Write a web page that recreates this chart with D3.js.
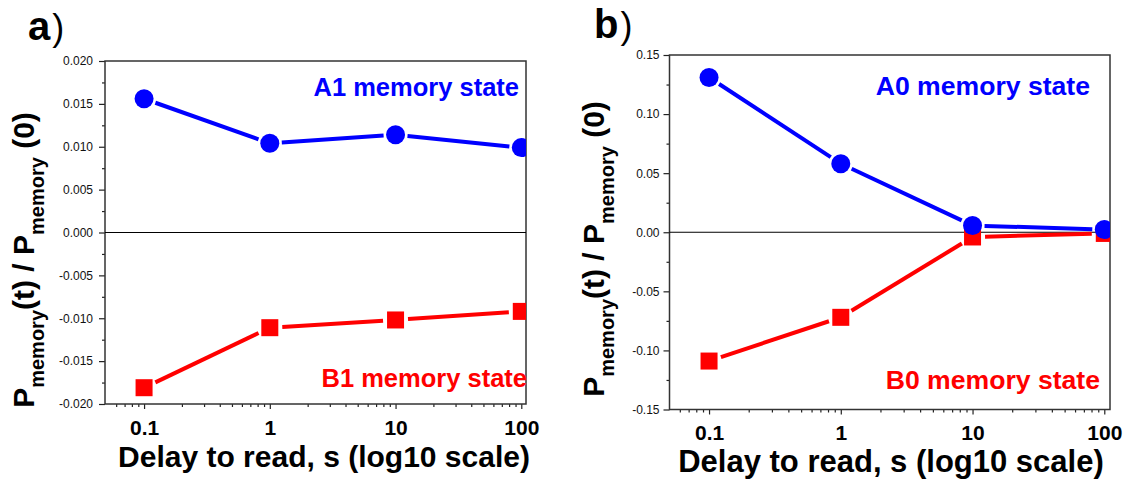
<!DOCTYPE html>
<html><head><meta charset="utf-8">
<script src="https://cdn.jsdelivr.net/npm/d3@7"></script>
<style>body{margin:0;background:#fff} svg{display:block;font-family:"Liberation Sans",Arial,sans-serif}</style>
</head><body><svg id="chart" width="1127" height="479"></svg>
<script>
// ---- data ----
const delays = [0.1, 1, 10, 100];
const xTickLabels = ["0.1", "1", "10", "100"];
const a1Values = [0.0156, 0.0104, 0.0114, 0.0099];
const b1Values = [-0.0181, -0.0111, -0.0102, -0.0092];
const a0Values = [0.131, 0.058, 0.0057, 0.0023];
const b0Values = [-0.109, -0.072, -0.004, -0.001];
const yTicksA = [0.020, 0.015, 0.010, 0.005, 0, -0.005, -0.010, -0.015, -0.020];
const yTickLabelsA = ["0.020", "0.015", "0.010", "0.005", "0.000", "-0.005", "-0.010", "-0.015", "-0.020"];
const yTicksB = [0.15, 0.10, 0.05, 0, -0.05, -0.10, -0.15];
const yTickLabelsB = ["0.15", "0.10", "0.05", "0.00", "-0.05", "-0.10", "-0.15"];
const panelLabels = ["a", "b"];
const upperLabels = ["A1 memory state", "A0 memory state"];
const lowerLabels = ["B1 memory state", "B0 memory state"];
const xTitle = "Delay to read, s (log10 scale)";

const BLUE = "#0000ff", RED = "#ff0000";
const svg = d3.select("#chart");

const panels = [
  {id: "a", left: 105, right: 526, top: 61, bottom: 404, xDom: [0.0489, 109], yDom: [-0.02, 0.02],
   yTicks: yTicksA, yLabels: yTickLabelsA, upper: a1Values, lower: b1Values,
   upperText: upperLabels[0], lowerText: lowerLabels[0], label: panelLabels[0],
   labelX: 28, labelY: 40, yPad: 6, upY: 96, lowY: 387, upR: 519, lowR: 527, annSize: 25.5,
   xLabY: 435, xTitleY: 467, xTitleC: 324, yTitleX: 34, yTitleY: 260, titleSize: 30},
  {id: "b", left: 669.5, right: 1110, top: 55, bottom: 409.5, xDom: [0.0501, 110.5], yDom: [-0.15, 0.15],
   yTicks: yTicksB, yLabels: yTickLabelsB, upper: a0Values, lower: b0Values,
   upperText: upperLabels[1], lowerText: lowerLabels[1], label: panelLabels[1],
   labelX: 594, labelY: 38, yPad: 4, upY: 95, lowY: 389, upR: 1090, lowR: 1100, annSize: 26.6,
   xLabY: 440, xTitleY: 472, xTitleC: 891, yTitleX: 604, yTitleY: 249, titleSize: 31}
];

panels.forEach(p => {
  const x = d3.scaleLog().domain(p.xDom).range([p.left, p.right]);
  const y = d3.scaleLinear().domain(p.yDom).range([p.bottom, p.top]);
  const g = svg.append("g");

  svg.append("clipPath").attr("id", "clip-" + p.id)
    .append("rect").attr("x", p.left).attr("y", p.top)
    .attr("width", p.right - p.left).attr("height", p.bottom - p.top);

  const minorX = [];
  for (let e = -2; e <= 2; e++) for (let k = 2; k <= 9; k++) {
    const v = k * Math.pow(10, e);
    if (v > p.xDom[0] * 1.03 && v < p.xDom[1]) minorX.push(v);
  }
  const yStep = p.yTicks[0] - p.yTicks[1];
  const minorY = p.yTicks.slice(1).map(v => v + yStep / 2);

  const axStyle = sel => {
    sel.select(".domain").remove();
    sel.selectAll("line").attr("stroke", "#222").attr("stroke-width", 1.2);
  };

  g.append("g").attr("transform", `translate(0,${p.bottom})`)
    .call(d3.axisBottom(x).tickValues(minorX).tickSize(3).tickFormat(""))
    .call(axStyle);
  const xAx = g.append("g").attr("transform", `translate(0,${p.bottom})`)
    .call(d3.axisBottom(x).tickValues(delays).tickSize(5).tickFormat((d, i) => xTickLabels[i]))
    .call(axStyle);
  xAx.selectAll("text").attr("dy", null).attr("y", p.xLabY - p.bottom)
    .attr("font-size", 21).attr("font-weight", "bold").attr("fill", "#000")
    .attr("font-family", '"Liberation Sans",Arial,sans-serif');

  g.append("g").attr("transform", `translate(${p.left},0)`)
    .call(d3.axisLeft(y).tickValues(minorY).tickSize(3).tickFormat(""))
    .call(axStyle);
  const yAx = g.append("g").attr("transform", `translate(${p.left},0)`)
    .call(d3.axisLeft(y).tickValues(p.yTicks).tickSize(6).tickPadding(p.yPad)
      .tickFormat((d, i) => p.yLabels[i]))
    .call(axStyle);
  yAx.selectAll("text").attr("font-size", 12).attr("fill", "#111")
    .attr("font-family", '"Liberation Sans",Arial,sans-serif');

  g.append("rect").attr("x", p.left).attr("y", p.top)
    .attr("width", p.right - p.left).attr("height", p.bottom - p.top)
    .attr("fill", "none").attr("stroke", "#333").attr("stroke-width", 1.5);
  g.append("line").attr("x1", p.left).attr("x2", p.right)
    .attr("y1", y(0)).attr("y2", y(0)).attr("stroke", "#000").attr("stroke-width", 1.2);

  const plot = g.append("g").attr("clip-path", `url(#clip-${p.id})`);

  function series(vals, color, shape) {
    const pts = delays.map((d, i) => [x(d), y(vals[i])]);
    const gap = shape === "circle" ? 12 : 12.5;
    for (let i = 0; i < pts.length - 1; i++) {
      const [x0, y0] = pts[i], [x1, y1] = pts[i + 1];
      const len = Math.hypot(x1 - x0, y1 - y0);
      if (len <= 2 * gap) continue;
      const ux = (x1 - x0) / len, uy = (y1 - y0) / len;
      plot.append("line")
        .attr("x1", x0 + ux * gap).attr("y1", y0 + uy * gap)
        .attr("x2", x1 - ux * gap).attr("y2", y1 - uy * gap)
        .attr("stroke", color).attr("stroke-width", 4);
    }
    if (shape === "circle") {
      plot.selectAll(null).data(pts).enter().append("circle")
        .attr("cx", d => d[0]).attr("cy", d => d[1]).attr("r", 9.5).attr("fill", color);
    } else {
      plot.selectAll(null).data(pts).enter().append("rect")
        .attr("x", d => d[0] - 8.5).attr("y", d => d[1] - 8.5)
        .attr("width", 17).attr("height", 17).attr("fill", color);
    }
  }
  series(p.lower, RED, "square");
  series(p.upper, BLUE, "circle");

  g.append("text").attr("x", p.upR).attr("y", p.upY).attr("text-anchor", "end")
    .attr("font-size", p.annSize).attr("font-weight", "bold").attr("fill", BLUE).text(p.upperText);
  g.append("text").attr("x", p.lowR).attr("y", p.lowY).attr("text-anchor", "end")
    .attr("font-size", p.annSize).attr("font-weight", "bold").attr("fill", RED).text(p.lowerText);

  g.append("text").attr("x", p.xTitleC).attr("y", p.xTitleY).attr("text-anchor", "middle")
    .attr("font-size", p.titleSize).attr("font-weight", "bold").attr("fill", "#000").text(xTitle);

  const yt = g.append("text").attr("transform", `translate(${p.yTitleX},${p.yTitleY}) rotate(-90)`)
    .attr("text-anchor", "middle").attr("font-weight", "bold").attr("fill", "#000").attr("font-size", 30);
  yt.append("tspan").text("P");
  yt.append("tspan").attr("font-size", 20).attr("dy", 10).text("memory");
  yt.append("tspan").attr("dy", -10).text("(t) / P");
  yt.append("tspan").attr("font-size", 20).attr("dy", 10).text("memory");
  yt.append("tspan").attr("dy", -10).text("\u00a0(0)");

  const pl = g.append("text").attr("x", p.labelX).attr("y", p.labelY).attr("fill", "#000");
  pl.append("tspan").attr("font-size", 40).attr("font-weight", "bold").text(p.label);
  pl.append("tspan").attr("font-size", 36).attr("font-weight", "normal").attr("dx", 2).text(")");
});
</script></body></html>
